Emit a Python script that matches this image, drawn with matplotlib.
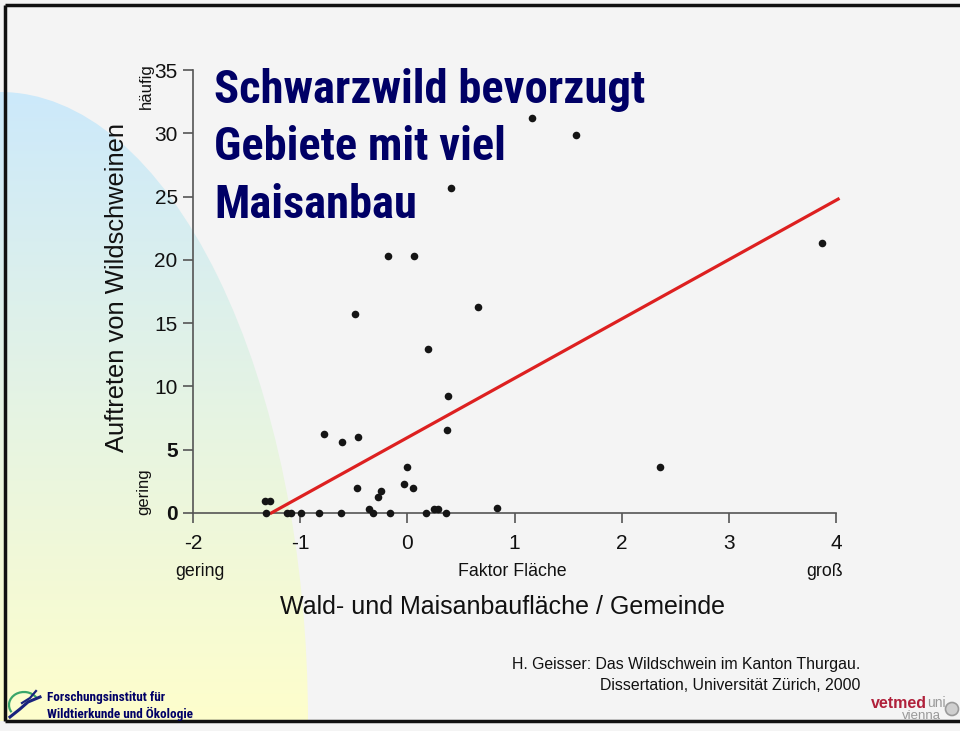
import numpy as np
import matplotlib
matplotlib.use("Agg")
import matplotlib.pyplot as plt
from matplotlib.patches import Ellipse, Circle, Arc
from matplotlib import font_manager as fm

# ---------------- data ----------------
factor_area = [-1.33, -1.28, -1.32, -1.12, -1.09, -0.99, -0.82, -0.62,
               -0.78, -0.61, -0.46, -0.47, -0.36, -0.32, -0.27, -0.25,
               -0.16, -0.03, 0.00, 0.05, 0.17, 0.25, 0.29, 0.36, 0.37,
               0.38, 0.84, -0.18, 0.06, -0.49, 0.19, 0.41, 0.66, 1.16,
               1.57, 2.36, 3.87]
occurrence = [0.95, 0.95, 0.0, 0.0, 0.0, 0.0, 0.0, 0.0,
              6.24, 5.6, 6.03, 1.97, 0.34, 0.0, 1.29, 1.76,
              0.0, 2.29, 3.66, 1.95, 0.0, 0.32, 0.32, 0.0, 6.53,
              9.27, 0.39, 20.3, 20.3, 15.7, 12.95, 25.7, 16.3, 31.2,
              29.9, 3.65, 21.3]
trend_x = [-1.27, 4.02]
trend_y = [0.0, 24.8]
x_ticks = [-2, -1, 0, 1, 2, 3, 4]
y_ticks = [0, 5, 10, 15, 20, 25, 30, 35]

title_lines = ["Schwarzwild bevorzugt", "Gebiete mit viel", "Maisanbau"]

# ---------------- fonts ----------------
names = {f.name for f in fm.fontManager.ttflist}
narrow = None
title_size, logo_size = 28.5, 7.9
for cand in ["Roboto Condensed", "Liberation Sans Narrow", "Open Sans Condensed"]:
    if cand in names:
        narrow = cand
        break
if narrow is None:
    narrow = "Liberation Sans"
elif narrow == "Roboto Condensed":
    title_size, logo_size = 33.6, 9.5
else:
    title_size, logo_size = 33, 9
plt.rcParams['font.family'] = ['Liberation Sans', 'DejaVu Sans']

W, H = 960, 731
fig = plt.figure(figsize=(W / 100, H / 100), dpi=100)
fig.patch.set_facecolor('#f4f4f4')

# background axes in pixel coordinates
bg = fig.add_axes([0, 0, 1, 1])
bg.set_xlim(0, W)
bg.set_ylim(H, 0)
bg.axis('off')
bg.set_zorder(0)

# gradient ellipse on the left
n = 256
t = np.linspace(0, 1, n)[:, None]
top = np.array([204, 233, 251]) / 255
bot = np.array([254, 254, 204]) / 255
grad = (top[None, None, :] * (1 - t[..., None]) + bot[None, None, :] * t[..., None])
grad = np.repeat(grad, 2, axis=1)
im = bg.imshow(grad, extent=[0, 320, 721, 90], aspect='auto', zorder=1)
ell = Ellipse((0, 722), 2 * 308, 2 * 630, transform=bg.transData, facecolor='none', edgecolor='none')
bg.add_patch(ell)
im.set_clip_path(ell)

# frame
bg.plot([5, 5], [5, 721], color='#111111', lw=2.5, zorder=5, solid_capstyle='butt')
bg.plot([5, W], [5, 5], color='#111111', lw=2.5, zorder=5, solid_capstyle='butt')
bg.plot([5, W], [721, 721], color='#111111', lw=2.5, zorder=5, solid_capstyle='butt')

# title
for i, line in enumerate(title_lines):
    bg.text(214, 103 + i * 57.5, line, fontsize=title_size, fontweight='bold', color='#000066',
            family=[narrow, 'DejaVu Sans'], va='baseline', ha='left', zorder=6)

# axis annotations
txt = '#111111'
bg.text(117, 287, "Auftreten von Wildschweinen", rotation=90, fontsize=18.4,
        ha='center', va='center', color=txt, zorder=6)
bg.text(146, 86, "häufig", rotation=90, fontsize=12, ha='center', va='center',
        color=txt, zorder=6)
bg.text(144, 492, "gering", rotation=90, fontsize=12, ha='center', va='center',
        color=txt, zorder=6)
bg.text(200, 572, "gering", fontsize=12.8, ha='center', va='center', color=txt, zorder=6)
bg.text(512, 572, "Faktor Fläche", fontsize=12.8, ha='center', va='center', color=txt, zorder=6)
bg.text(825, 572, "groß", fontsize=12.8, ha='center', va='center', color=txt, zorder=6)
bg.text(502, 607, "Wald- und Maisanbaufläche / Gemeinde", fontsize=18, ha='center',
        va='center', color=txt, zorder=6)

# citation
bg.text(860, 664, "H. Geisser: Das Wildschwein im Kanton Thurgau.", fontsize=11.4,
        ha='right', va='center', color=txt, zorder=6)
bg.text(860, 686, "Dissertation, Universität Zürich, 2000", fontsize=11.4,
        ha='right', va='center', color=txt, zorder=6)

# vetmeduni logo
t_vet = bg.text(871, 703, "vetmed", fontsize=11.5, fontweight='bold', color='#b0203a',
                ha='left', va='center', zorder=6)
fig.canvas.draw()
ext = t_vet.get_window_extent()
x_uni = ext.x1 + 0.5
bg.text(x_uni, 703, "uni", fontsize=10, color='#9a9a9a', ha='left', va='center', zorder=6)
bg.text(941, 716, "vienna", fontsize=9.5, color='#9a9a9a', ha='right', va='center', zorder=6)
bg.add_patch(Circle((952, 709), 6.5, facecolor='#cfcfcf', edgecolor='#9a9a9a', lw=1.2, zorder=6))

# Forschungsinstitut logo
bg.add_patch(Arc((24, 705), 30, 26, theta1=150, theta2=330, color='#3aa66a', lw=1.6, zorder=6))
bg.plot([10, 20, 28, 40], [717, 709, 702, 697], color='#1a237e', lw=2.2, zorder=7)
bg.plot([22, 30, 36], [703, 698, 691], color='#1a237e', lw=1.6, zorder=7)
bg.text(47, 698, "Forschungsinstitut für", fontsize=logo_size, fontweight='bold', color='#000066',
        family=[narrow, 'DejaVu Sans'], ha='left', va='center', zorder=6)
bg.text(47, 714, "Wildtierkunde und Ökologie", fontsize=logo_size, fontweight='bold', color='#000066',
        family=[narrow, 'DejaVu Sans'], ha='left', va='center', zorder=6)

# ---------------- main chart ----------------
ax = fig.add_axes([193 / W, (H - 513) / H, 643 / W, 443 / H])
ax.set_zorder(3)
ax.patch.set_alpha(0)
ax.set_xlim(-2, 4)
ax.set_ylim(0, 35)
for s in ['top', 'right']:
    ax.spines[s].set_visible(False)
for s in ['left', 'bottom']:
    ax.spines[s].set_color('#555555')
    ax.spines[s].set_linewidth(1.2)
ax.set_xticks(x_ticks)
ax.set_yticks(y_ticks)
ax.set_xticklabels([str(v) for v in x_ticks])
ax.set_yticklabels([str(v) for v in y_ticks])
ax.tick_params(axis='both', direction='out', length=7, width=1.2, color='#555555',
               labelsize=15, labelcolor=txt)
ax.tick_params(axis='x', pad=8)
ax.tick_params(axis='y', pad=4)
for lbl in ax.get_yticklabels():
    if lbl.get_text() in ('0', '5'):
        lbl.set_fontweight('bold')

ax.plot(trend_x, trend_y, color='#dd2020', lw=2.3, zorder=3, clip_on=False)
ax.scatter(factor_area, occurrence, s=30, color='#151515', zorder=4, clip_on=False,
           linewidths=0)

fig.savefig("out.png", dpi=100, facecolor=fig.get_facecolor())
